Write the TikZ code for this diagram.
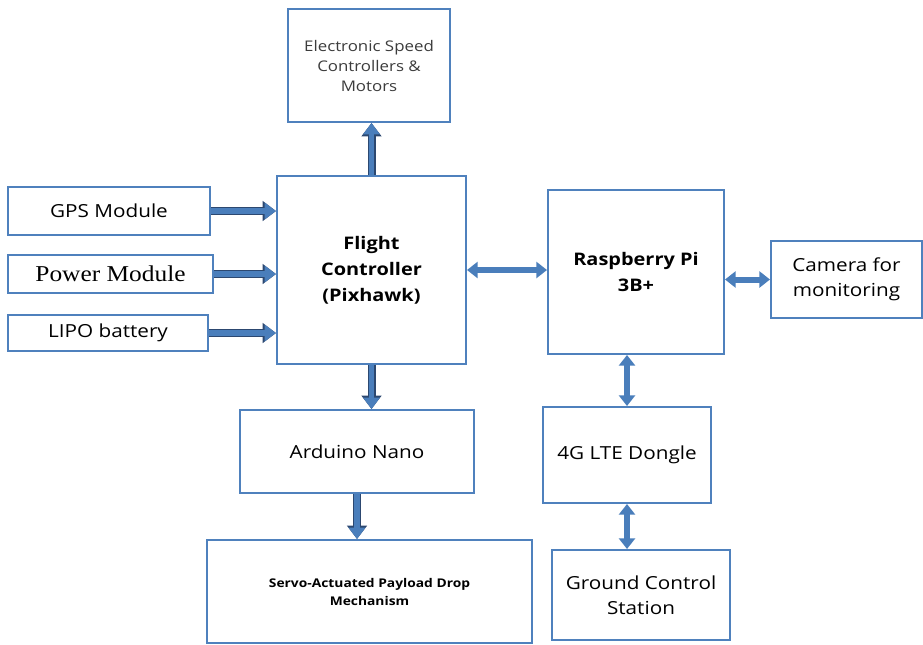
\documentclass[tikz,border=0pt]{standalone}
\usepackage{fontspec}
\setmainfont{Open Sans}[FakeStretch=1.15]
\newfontfamily\serifwide{Liberation Serif}[FakeStretch=1.12]
\usetikzlibrary{arrows.meta}

\definecolor{boxblue}{RGB}{79,129,189}
\definecolor{arrowfill}{RGB}{74,126,187}
\definecolor{arrowline}{RGB}{44,72,112}
\definecolor{esctext}{RGB}{60,60,60}

\tikzset{
  box/.style={draw=boxblue, line width=1.5pt, fill=white, align=center, inner sep=2pt},
  fwdarrow/.style={line width=4pt, draw=arrowfill,
    -{Triangle[length=8.5pt,width=12pt]},
    preaction={draw=arrowline, line width=6pt, -{Triangle[length=10pt,width=14.5pt]}}},
  bidarrow/.style={line width=4.5pt, draw=arrowfill,
    {Triangle[length=8pt,width=12pt]}-{Triangle[length=8pt,width=12pt]}},
}

\begin{document}
\begin{tikzpicture}[x=0.75pt,y=0.75pt,yscale=-1,xscale=1]
  \useasboundingbox (0,0) rectangle (923,644);

  % boxes
  \node[box, minimum width=121.5pt, minimum height=84.75pt, text=esctext, font=\fontsize{11}{15}\selectfont]
    (esc) at (369,65.5) {Electronic Speed\\Controllers \&\\Motors};
  \node[box, minimum width=151.5pt, minimum height=36pt, font=\fontsize{13.5}{16}\selectfont]
    (gps) at (109,211) {GPS Module};
  \node[box, minimum width=153.75pt, minimum height=28.5pt, font=\serifwide\fontsize{17}{20}\selectfont]
    (power) at (110.5,274) {Power Module};
  \node[box, minimum width=150pt, minimum height=27pt, font=\fontsize{13.5}{16}\selectfont]
    (lipo) at (108,333) {LIPO battery};
  \node[box, minimum width=141.75pt, minimum height=141pt, font=\bfseries\fontsize{13}{19.5}\selectfont]
    (fc) at (371.5,270) {Flight\\Controller\\(Pixhawk)};
  \node[box, minimum width=132pt, minimum height=123pt, font=\bfseries\fontsize{13}{19.5}\selectfont]
    (rpi) at (636,272) {Raspberry Pi\\3B+};
  \node[box, minimum width=113.25pt, minimum height=57.75pt, font=\fontsize{13.5}{19}\selectfont]
    (cam) at (846.5,279.5) {Camera for\\monitoring};
  \node[box, minimum width=175.5pt, minimum height=62.25pt, font=\fontsize{13.5}{16}\selectfont]
    (nano) at (357,451.5) {Arduino Nano};
  \node[box, minimum width=243.75pt, minimum height=77.25pt, font=\bfseries\fontsize{9}{13.5}\selectfont]
    (servo) at (369.5,591.5) {Servo-Actuated Payload Drop\\Mechanism};
  \node[box, minimum width=126pt, minimum height=72pt, font=\fontsize{13.5}{16}\selectfont]
    (lte) at (627,455) {4G LTE Dongle};
  \node[box, minimum width=133.5pt, minimum height=67.5pt, font=\fontsize{13.5}{19}\selectfont]
    (gcs) at (641,595) {Ground Control\\Station};

  % arrows
  \draw[fwdarrow] (gps.east) -- (gps.east -| fc.west);
  \draw[fwdarrow] (power.east) -- (power.east -| fc.west);
  \draw[fwdarrow] (lipo.east) -- (lipo.east -| fc.west);
  \draw[fwdarrow] (fc.north) -- (fc.north |- esc.south);
  \draw[fwdarrow] (fc.south) -- (fc.south |- nano.north);
  \draw[fwdarrow] (nano.south) -- (nano.south |- servo.north);
  \draw[bidarrow] (fc.east) -- (fc.east -| rpi.west);
  \draw[bidarrow] (cam.west -| rpi.east) -- (cam.west);
  \draw[bidarrow] (lte.north) -- (lte.north |- rpi.south);
  \draw[bidarrow] (lte.south) -- (lte.south |- gcs.north);
\end{tikzpicture}
\end{document}
